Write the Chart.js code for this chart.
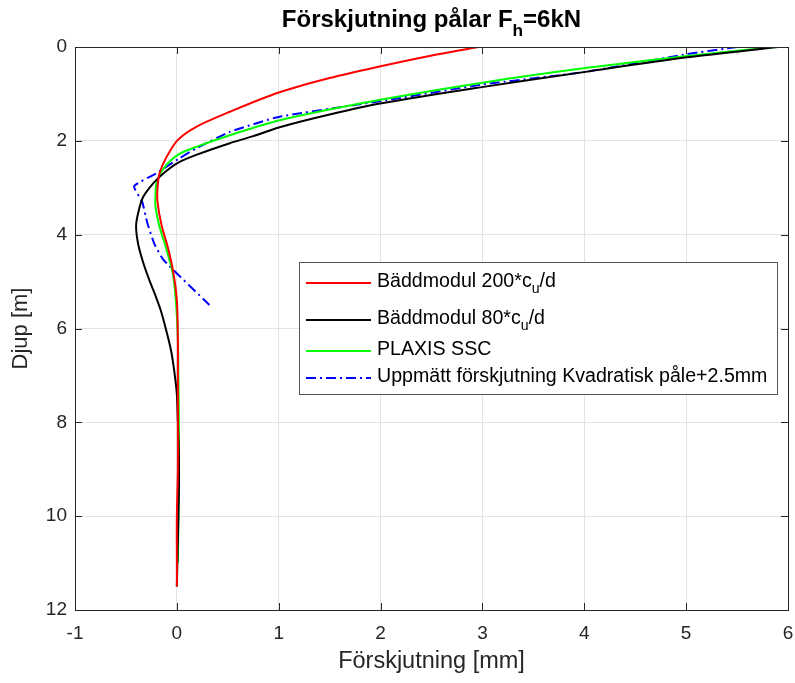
<!DOCTYPE html>
<html>
<head>
<meta charset="utf-8">
<title>Förskjutning pålar</title>
<script src="https://cdn.jsdelivr.net/npm/chart.js@4.4.1/dist/chart.umd.min.js"></script>
<style>
  html, body { margin: 0; padding: 0; background: #fff; }
  canvas { display: block; }
</style>
</head>
<body>
<canvas id="pileChart" width="795" height="683"></canvas>
<script>
// Förskjutning [mm] mot djup [m] för de fyra beräkningarna
const redX     = [2.96, 2.48, 2.0, 1.5, 1.0, 0.52, 0.19, 0.01, -0.10, -0.17, -0.19, -0.19, -0.15, -0.085, -0.035, 0.0, 0.01, 0.01, 0.01, 0.01, 0.0, 0.0, 0.0];
const redDepth = [0, 0.19, 0.41, 0.66, 0.97, 1.38, 1.70, 1.98, 2.34, 2.69, 3.0, 3.3, 3.8, 4.3, 4.8, 5.4, 6.2, 7, 8, 9, 10, 11, 11.5];

const blackX     = [5.90, 5.01, 4.01, 3.01, 2.01, 1.5, 1.01, 0.75, 0.52, 0.19, 0.01, -0.13, -0.23, -0.33, -0.37, -0.40, -0.38, -0.33, -0.27, -0.21, -0.16, -0.115, -0.08, -0.05, -0.02, 0.0, 0.01, 0.02, 0.02, 0.01, 0.0];
const blackDepth = [0, 0.22, 0.53, 0.85, 1.2, 1.44, 1.71, 1.9, 2.05, 2.3, 2.47, 2.69, 2.9, 3.19, 3.45, 3.8, 4.2, 4.6, 4.97, 5.3, 5.6, 5.95, 6.25, 6.55, 7.0, 7.4, 8, 8.7, 9.5, 10.5, 11.5];

const greenX     = [5.88, 5.01, 4.01, 3.0, 2.01, 1.01, 0.52, 0.19, 0.01, -0.13, -0.20, -0.21, -0.21, -0.17, -0.10, -0.04, -0.01, 0.01, 0.015, 0.02, 0.02, 0.015, 0.01];
const greenDepth = [0, 0.19, 0.45, 0.76, 1.12, 1.56, 1.88, 2.13, 2.30, 2.59, 2.91, 3.19, 3.4, 3.83, 4.33, 4.83, 5.4, 6.18, 7, 8, 9, 10, 11];

const blueX     = [5.50, 5.01, 4.01, 3.0, 2.01, 1.0, 0.52, 0.19, 0.02, -0.2, -0.42, -0.34, -0.29, -0.22, -0.13, 0.32];
const blueDepth = [0, 0.15, 0.53, 0.80, 1.15, 1.49, 1.81, 2.16, 2.38, 2.69, 2.97, 3.3, 3.75, 4.2, 4.54, 5.5];

const xTicks = [-1, 0, 1, 2, 3, 4, 5, 6];
const yTicks = [0, 2, 4, 6, 8, 10, 12];

// legend texts, subscripts marked with sub:true
const legendItems = [
  { color: '#ff0000', dash: [], parts: [{ t: 'Bäddmodul 200*c' }, { t: 'u', sub: true }, { t: '/d' }] },
  { color: '#000000', dash: [], parts: [{ t: 'Bäddmodul 80*c' }, { t: 'u', sub: true }, { t: '/d' }] },
  { color: '#00ff00', dash: [], parts: [{ t: 'PLAXIS SSC' }] },
  { color: '#0000ff', dash: [10, 4, 2, 4], parts: [{ t: 'Uppmätt förskjutning Kvadratisk påle+2.5mm' }] }
];
const titleParts = [{ t: 'Förskjutning pålar F' }, { t: 'h', sub: true }, { t: '=6kN' }];

const FONT = '"Liberation Sans", Arial, Helvetica, sans-serif';
const AXIS_COLOR = '#262626';

function toPoints(xs, ds) {
  return xs.map((v, i) => ({ x: v, y: ds[i] }));
}

// draws text with subscripts, returns the width used
function drawRich(ctx, parts, x, y, size, weight, measureOnly) {
  let cx = x;
  parts.forEach(p => {
    const s = p.sub ? size * 0.72 : size;
    ctx.font = weight + ' ' + s + 'px ' + FONT;
    if (!measureOnly) ctx.fillText(p.t, cx, p.sub ? y + size * 0.38 : y);
    cx += ctx.measureText(p.t).width;
  });
  return cx - x;
}

const boxPlugin = {
  id: 'matlabBox',
  afterDraw(chart) {
    const { ctx, chartArea: a, scales } = chart;
    ctx.save();

    // inward ticks on all four sides
    ctx.strokeStyle = AXIS_COLOR;
    ctx.lineWidth = 1;
    const tl = 7;
    ctx.beginPath();
    xTicks.forEach(v => {
      const px = Math.round(scales.x.getPixelForValue(v)) + 0.5;
      ctx.moveTo(px, a.bottom); ctx.lineTo(px, a.bottom - tl);
      ctx.moveTo(px, a.top); ctx.lineTo(px, a.top + tl);
    });
    yTicks.forEach(v => {
      const py = Math.round(scales.y.getPixelForValue(v)) + 0.5;
      ctx.moveTo(a.left, py); ctx.lineTo(a.left + tl, py);
      ctx.moveTo(a.right, py); ctx.lineTo(a.right - tl, py);
    });
    ctx.stroke();
    ctx.strokeRect(Math.round(a.left) + 0.5, Math.round(a.top) + 0.5,
                   Math.round(a.right - a.left), Math.round(a.bottom - a.top));

    // legend
    const lx = a.left + 224, ly = a.top + 215, lw = 478, lh = 132;
    ctx.fillStyle = '#ffffff';
    ctx.fillRect(lx, ly, lw, lh);
    ctx.strokeStyle = '#555555';
    ctx.strokeRect(Math.round(lx) + 0.5, Math.round(ly) + 0.5, lw, lh);
    const rows = [21, 58, 89, 116];
    ctx.textBaseline = 'middle';
    ctx.textAlign = 'left';
    legendItems.forEach((it, i) => {
      const y = ly + rows[i];
      ctx.strokeStyle = it.color;
      ctx.lineWidth = 2;
      ctx.setLineDash(it.dash);
      ctx.beginPath();
      ctx.moveTo(lx + 7, y); ctx.lineTo(lx + 72, y);
      ctx.stroke();
      ctx.setLineDash([]);
      ctx.fillStyle = '#000000';
      drawRich(ctx, it.parts, lx + 78, y - 1, 19.6, 'normal');
    });

    // title
    ctx.fillStyle = '#000000';
    ctx.textBaseline = 'alphabetic';
    const tw = drawRich(ctx, titleParts, 0, 0, 24, 'bold', true);
    drawRich(ctx, titleParts, (a.left + a.right) / 2 - tw / 2, 27, 24, 'bold');

    ctx.restore();
  }
};

const ctx = document.getElementById('pileChart').getContext('2d');

const pileChart = new Chart(ctx, {
  type: 'scatter',
  data: {
    datasets: [
      { label: 'Bäddmodul 200*cu/d', data: toPoints(redX, redDepth), borderColor: '#ff0000' },
      { label: 'Bäddmodul 80*cu/d', data: toPoints(blackX, blackDepth), borderColor: '#000000' },
      { label: 'PLAXIS SSC', data: toPoints(greenX, greenDepth), borderColor: '#00ff00' },
      { label: 'Uppmätt förskjutning Kvadratisk påle+2.5mm', data: toPoints(blueX, blueDepth),
        borderColor: '#0000ff', borderDash: [10, 4, 2, 4], tension: 0.15 }
    ]
  },
  options: {
    responsive: false,
    animation: false,
    showLine: true,
    datasets: {
      scatter: { showLine: true, pointRadius: 0, borderWidth: 2, tension: 0.3, fill: false }
    },
    layout: { padding: { top: 47, right: 7, left: 0, bottom: 0 } },
    plugins: {
      legend: { display: false },
      tooltip: { enabled: false }
    },
    scales: {
      x: {
        type: 'linear',
        min: -1, max: 6,
        afterFit: s => { s.height = 73; s.paddingLeft = 0; s.paddingRight = 0; },
        afterBuildTicks: s => { s.ticks = xTicks.map(v => ({ value: v })); },
        grid: { color: '#e3e3e3', drawTicks: false },
        border: { display: false },
        ticks: { color: AXIS_COLOR, padding: 12, font: { family: FONT, size: 19 } },
        title: { display: true, text: 'Förskjutning [mm]', color: AXIS_COLOR,
                 padding: { top: 0, bottom: 7 }, font: { family: FONT, size: 23.5 } }
      },
      y: {
        type: 'linear',
        reverse: true,
        min: 0, max: 12,
        afterFit: s => { s.width = 75; s.paddingTop = 0; s.paddingBottom = 0; },
        afterBuildTicks: s => { s.ticks = yTicks.map(v => ({ value: v })); },
        grid: { color: '#e3e3e3', drawTicks: false },
        border: { display: false },
        ticks: { color: AXIS_COLOR, padding: 8, font: { family: FONT, size: 19 } },
        title: { display: true, text: 'Djup [m]', color: AXIS_COLOR,
                 padding: { top: 8, bottom: 0 }, font: { family: FONT, size: 22 } }
      }
    }
  },
  plugins: [boxPlugin]
});
</script>
</body>
</html>
